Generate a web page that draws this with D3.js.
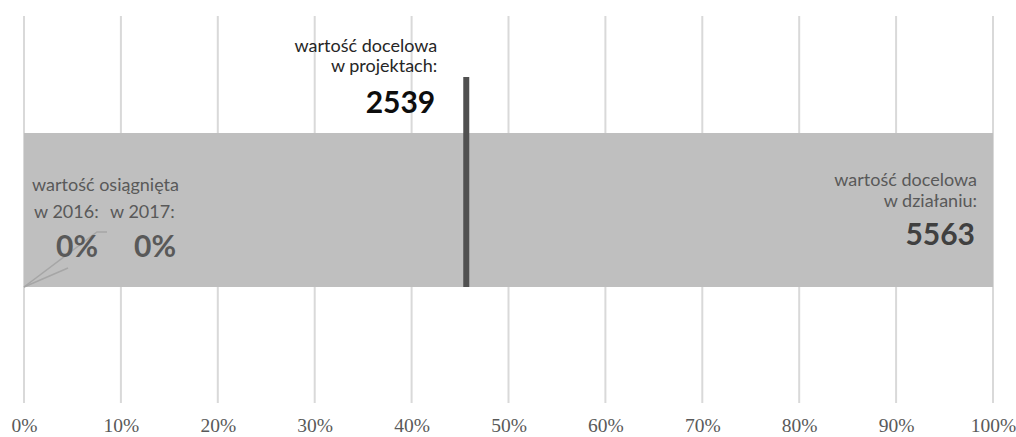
<!DOCTYPE html>
<html>
<head>
<meta charset="utf-8">
<script src="https://cdn.jsdelivr.net/npm/d3@7"></script>
<style>
  body { margin: 0; background: #fff; }
  svg text { font-family: Lato, "Noto Sans", sans-serif; }
</style>
</head>
<body>
<div id="chart"></div>
<script>
// values
const years = ['2016', '2017'];
const achieved = [0, 0];            // share reached in each year
const targetProjects = 2539;        // wartość docelowa w projektach
const targetAction = 5563;          // wartość docelowa w działaniu
const ticks = [0, 0.1, 0.2, 0.3, 0.4, 0.5, 0.6, 0.7, 0.8, 0.9, 1];

const width = 1016;
const height = 437;

const svg = d3.select('#chart').append('svg')
  .attr('width', width)
  .attr('height', height);

const x = d3.scaleLinear().domain([0, 1]).range([24, 993]);

// gridlines
svg.append('g')
  .selectAll('line')
  .data(ticks)
  .join('line')
  .attr('x1', (d) => x(d))
  .attr('x2', (d) => x(d))
  .attr('y1', 16)
  .attr('y2', 403)
  .attr('stroke', '#d9d9d9')
  .attr('stroke-width', 2);

// axis labels
const axis = d3.axisBottom(x)
  .tickValues(ticks)
  .tickFormat(d3.format('.0%'))
  .tickSize(0)
  .tickPadding(0);

const ax = svg.append('g')
  .attr('transform', 'translate(0,420)')
  .call(axis);
ax.select('.domain').remove();
ax.selectAll('text')
  .attr('dy', 0)
  .attr('y', 12)
  .style('font-family', '"Liberation Serif", "Times New Roman", serif')
  .style('font-size', '19.5px')
  .attr('fill', '#595959');

// main bar: 100% = target in action
const barTop = 133;
const barBottom = 287;
svg.append('rect')
  .attr('x', x(0))
  .attr('y', barTop)
  .attr('width', x(1) - x(0))
  .attr('height', barBottom - barTop)
  .attr('fill', '#bfbfbf');

// achieved values (zero width)
svg.append('g')
  .selectAll('rect')
  .data(achieved)
  .join('rect')
  .attr('x', x(0))
  .attr('y', barTop)
  .attr('width', (d) => x(d) - x(0))
  .attr('height', barBottom - barTop)
  .attr('fill', '#7f7f7f');

// target in projects marker
const share = targetProjects / targetAction;
svg.append('line')
  .attr('x1', x(share))
  .attr('x2', x(share))
  .attr('y1', 77)
  .attr('y2', barBottom)
  .attr('stroke', '#505050')
  .attr('stroke-width', 6);

// labels for target in projects
const lp = svg.append('g')
  .attr('text-anchor', 'end')
  .attr('fill', '#262626');
lp.append('text')
  .attr('x', x(share) - 29)
  .attr('y', 52)
  .style('font-size', '18px')
  .text('wartość docelowa');
lp.append('text')
  .attr('x', x(share) - 29)
  .attr('y', 72)
  .style('font-size', '18px')
  .text('w projektach:');
lp.append('text')
  .attr('x', x(share) - 31)
  .attr('y', 113)
  .style('font-size', '30px')
  .style('font-weight', 'bold')
  .attr('fill', '#0d0d0d')
  .text(targetProjects);

// labels for target in action
const la = svg.append('g')
  .attr('text-anchor', 'end')
  .attr('fill', '#595959');
la.append('text')
  .attr('x', x(1) - 16)
  .attr('y', 186)
  .style('font-size', '18px')
  .text('wartość docelowa');
la.append('text')
  .attr('x', x(1) - 16)
  .attr('y', 207)
  .style('font-size', '18px')
  .text('w działaniu:');
la.append('text')
  .attr('x', x(1) - 18)
  .attr('y', 245)
  .style('font-size', '30px')
  .style('font-weight', 'bold')
  .attr('fill', '#404040')
  .text(targetAction);

// achieved labels with leader lines
const leaderEnds = [[68, 268], [97, 232]];
svg.append('g')
  .selectAll('path')
  .data(achieved)
  .join('path')
  .attr('d', (d, i) => {
    const [ex, ey] = leaderEnds[i];
    const p = `M${x(d)},${barBottom}L${ex},${ey}`;
    return i === 1 ? `${p}L${ex + 10},${ey}` : p;
  })
  .attr('fill', 'none')
  .attr('stroke', '#a6a6a6')
  .attr('stroke-width', 1.5);

svg.append('text')
  .attr('x', 32)
  .attr('y', 191)
  .style('font-size', '18px')
  .attr('fill', '#595959')
  .text('wartość osiągnięta');

const yearX = [34, 110];
const valX = [56, 134];
svg.append('g')
  .selectAll('text')
  .data(years)
  .join('text')
  .attr('x', (d, i) => yearX[i])
  .attr('y', 218)
  .style('font-size', '18px')
  .attr('fill', '#595959')
  .text((d) => `w ${d}:`);

svg.append('g')
  .selectAll('text')
  .data(achieved)
  .join('text')
  .attr('x', (d, i) => valX[i])
  .attr('y', 257)
  .style('font-size', '30px')
  .style('font-weight', 'bold')
  .attr('fill', '#595959')
  .text((d) => d3.format('.0%')(d));
</script>
</body>
</html>
